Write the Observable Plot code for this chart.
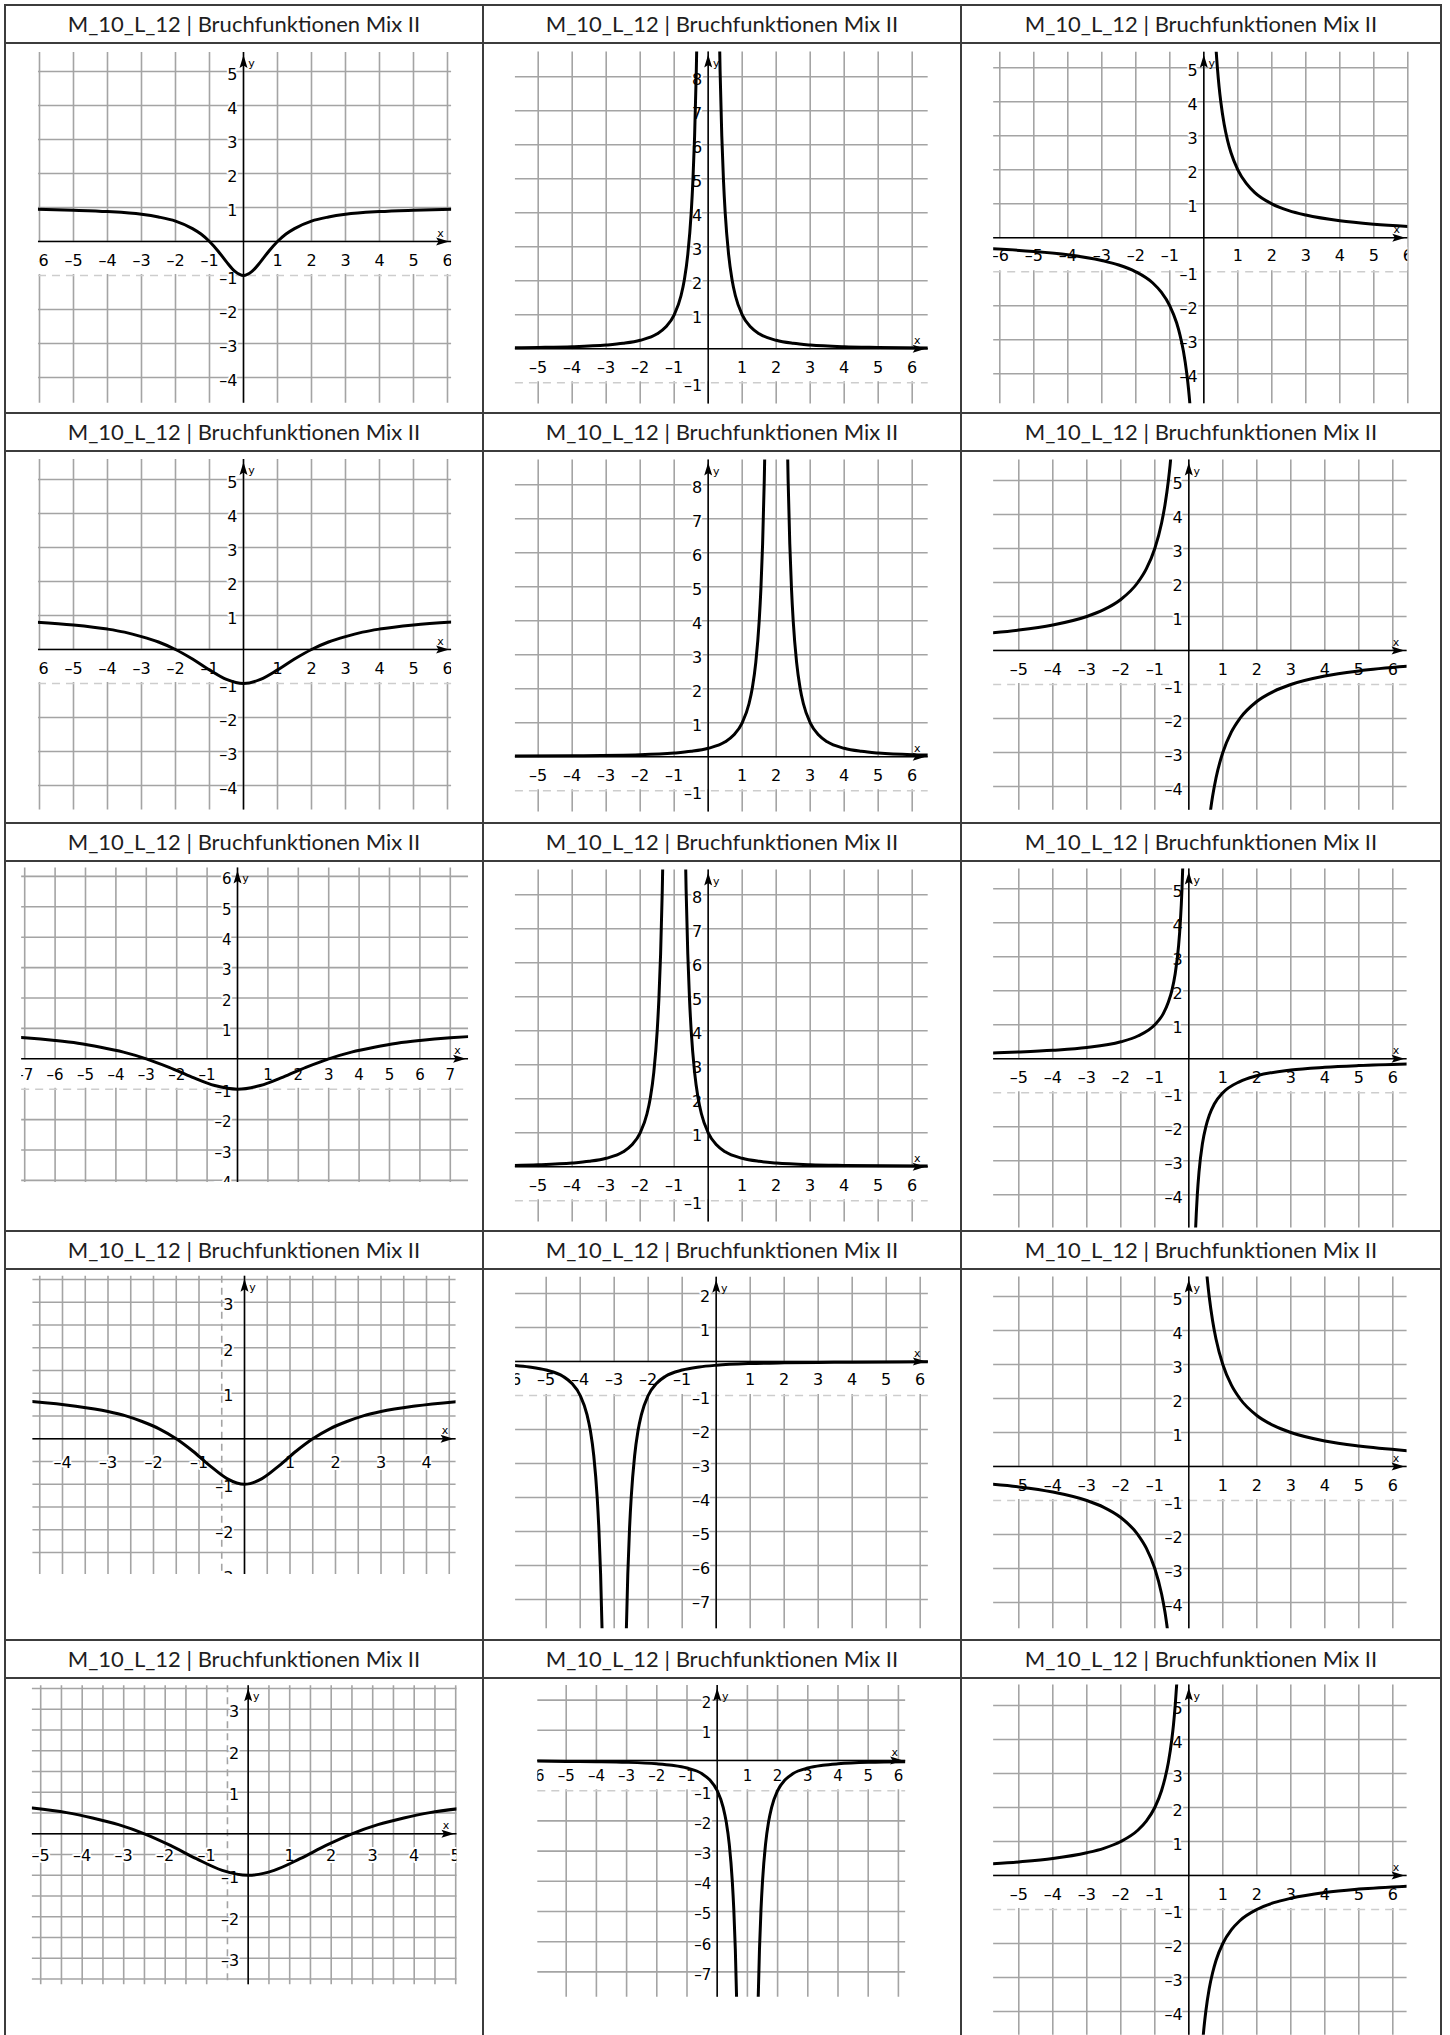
<!DOCTYPE html>
<html><head><meta charset="utf-8">
<script src="https://cdn.jsdelivr.net/npm/d3@7"></script>
<script src="https://cdn.jsdelivr.net/npm/@observablehq/plot@0.6"></script>
<style>
body{margin:0;background:#fff;}
#page{position:relative;width:1450px;height:2035px;overflow:hidden;background:#fff;}
.ln{position:absolute;background:#3c3c3c;z-index:5;}
.title{position:absolute;font-family:Lato,"Noto Sans",sans-serif;font-size:22px;color:#1e1e1e;text-align:center;line-height:38px;height:38px;white-space:nowrap;}
.body{position:absolute;}
.body svg{display:block;}
#page svg text{paint-order:stroke fill;}
</style></head><body><div id="page"></div>
<script>
const titleText = "M_10_L_12 | Bruchfunktionen Mix II";

// ---- curve points (x, y) ----
const curve1 = [[-6.2,0.95],[-5,0.92],[-4,0.88],[-3,0.8],[-2.5,0.72],[-2,0.6],[-1.5,0.38],[-1.25,0.22],[-1,0],[-0.75,-0.28],[-0.5,-0.6],[-0.25,-0.88],[0,-1],[0.25,-0.88],[0.5,-0.6],[0.75,-0.28],[1,0],[1.25,0.22],[1.5,0.38],[2,0.6],[2.5,0.72],[3,0.8],[4,0.88],[5,0.92],[6.2,0.95]];
const curve2a = [[-5.8,0.03],[-5,0.04],[-4,0.06],[-3,0.11],[-2.5,0.16],[-2,0.25],[-1.5,0.44],[-1.25,0.64],[-1,1],[-0.8,1.56],[-0.7,2.04],[-0.6,2.78],[-0.5,4],[-0.45,4.94],[-0.4,6.25],[-0.35,8.16],[-0.32,9.77]];
const curve2b = [[0.32,9.77],[0.35,8.16],[0.4,6.25],[0.45,4.94],[0.5,4],[0.6,2.78],[0.7,2.04],[0.8,1.56],[1,1],[1.25,0.64],[1.5,0.44],[2,0.25],[2.5,0.16],[3,0.11],[4,0.06],[5,0.04],[6.5,0.02]];
const curve3a = [[-6.3,-0.32],[-5,-0.4],[-4,-0.5],[-3,-0.67],[-2.5,-0.8],[-2,-1],[-1.5,-1.33],[-1.25,-1.6],[-1,-2],[-0.8,-2.5],[-0.7,-2.86],[-0.6,-3.33],[-0.5,-4],[-0.45,-4.44],[-0.4,-5],[-0.35,-5.71]];
const curve3b = [[0.33,6.06],[0.35,5.71],[0.4,5],[0.45,4.44],[0.5,4],[0.6,3.33],[0.7,2.86],[0.8,2.5],[1,2],[1.25,1.6],[1.5,1.33],[2,1],[2.5,0.8],[3,0.67],[4,0.5],[5,0.4],[6.1,0.33]];
const curve4 = [[-6.2,0.81],[-5,0.72],[-4,0.6],[-3.5,0.51],[-3,0.38],[-2.5,0.22],[-2,0],[-1.5,-0.28],[-1,-0.6],[-0.5,-0.88],[0,-1],[0.5,-0.88],[1,-0.6],[1.5,-0.28],[2,0],[2.5,0.22],[3,0.38],[3.5,0.51],[4,0.6],[5,0.72],[6.2,0.81]];
const curve5a = [[-5.8,0.02],[-4,0.03],[-2,0.06],[-1,0.11],[-0.5,0.16],[0,0.25],[0.5,0.44],[0.75,0.64],[1,1],[1.2,1.56],[1.3,2.04],[1.4,2.78],[1.5,4],[1.55,4.94],[1.6,6.25],[1.65,8.16],[1.68,9.77]];
const curve5b = [[2.32,9.77],[2.35,8.16],[2.4,6.25],[2.45,4.94],[2.5,4],[2.6,2.78],[2.7,2.04],[2.8,1.56],[3,1],[3.25,0.64],[3.5,0.44],[4,0.25],[4.5,0.16],[5,0.11],[6,0.06],[6.5,0.05]];
const curve6a = [[-5.8,0.52],[-5,0.6],[-4,0.75],[-3,1],[-2.5,1.2],[-2,1.5],[-1.5,2],[-1.25,2.4],[-1,3],[-0.8,3.75],[-0.7,4.29],[-0.6,5],[-0.55,5.45],[-0.5,6]];
const curve6b = [[0.6,-5],[0.65,-4.62],[0.7,-4.29],[0.8,-3.75],[1,-3],[1.25,-2.4],[1.5,-2],[2,-1.5],[2.5,-1.2],[3,-1],[4,-0.75],[5,-0.6],[6.5,-0.46]];
const curve7 = [[-7.6,0.73],[-7,0.69],[-6,0.6],[-5.25,0.51],[-4.5,0.38],[-3.75,0.22],[-3,0],[-2.25,-0.28],[-1.5,-0.6],[-0.75,-0.88],[0,-1],[0.75,-0.88],[1.5,-0.6],[2.25,-0.28],[3,0],[3.75,0.22],[4.5,0.38],[5.25,0.51],[6,0.6],[7,0.69],[7.6,0.73]];
const curve8a = [[-5.8,0.04],[-5,0.06],[-4,0.11],[-3.5,0.16],[-3,0.25],[-2.5,0.44],[-2.25,0.64],[-2,1],[-1.8,1.56],[-1.7,2.04],[-1.6,2.78],[-1.5,4],[-1.45,4.94],[-1.4,6.25],[-1.35,8.16],[-1.32,9.77]];
const curve8b = [[-0.68,9.77],[-0.65,8.16],[-0.6,6.25],[-0.55,4.94],[-0.5,4],[-0.4,2.78],[-0.3,2.04],[-0.2,1.56],[0,1],[0.25,0.64],[0.5,0.44],[1,0.25],[1.5,0.16],[2,0.11],[3,0.06],[4,0.04],[6.5,0.02]];
const curve9a = [[-5.8,0.17],[-5,0.2],[-4,0.25],[-3,0.33],[-2,0.5],[-1.5,0.67],[-1,1],[-0.75,1.33],[-0.6,1.67],[-0.5,2],[-0.4,2.5],[-0.3,3.33],[-0.25,4],[-0.2,5],[-0.17,5.88]];
const curve9b = [[0.19,-5.26],[0.2,-5],[0.22,-4.55],[0.25,-4],[0.3,-3.33],[0.4,-2.5],[0.5,-2],[0.6,-1.67],[0.75,-1.33],[1,-1],[1.5,-0.67],[2,-0.5],[3,-0.33],[4,-0.25],[5,-0.2],[6.5,-0.15]];
const curve10 = [[-4.7,0.82],[-3.75,0.72],[-3,0.6],[-2.625,0.51],[-2.25,0.38],[-1.875,0.22],[-1.5,0],[-1.125,-0.28],[-0.75,-0.6],[-0.375,-0.88],[0,-1],[0.375,-0.88],[0.75,-0.6],[1.125,-0.28],[1.5,0],[1.875,0.22],[2.25,0.38],[2.625,0.51],[3,0.6],[3.75,0.72],[4.7,0.82]];
const curve11a = [[-6,-0.11],[-5.5,-0.16],[-5,-0.25],[-4.5,-0.44],[-4.25,-0.64],[-4,-1],[-3.8,-1.56],[-3.7,-2.04],[-3.6,-2.78],[-3.5,-4],[-3.45,-4.94],[-3.4,-6.25],[-3.35,-8.16],[-3.32,-9.77]];
const curve11b = [[-2.68,-9.77],[-2.65,-8.16],[-2.6,-6.25],[-2.55,-4.94],[-2.5,-4],[-2.4,-2.78],[-2.3,-2.04],[-2.2,-1.56],[-2,-1],[-1.75,-0.64],[-1.5,-0.44],[-1,-0.25],[-0.5,-0.16],[0,-0.11],[1,-0.06],[2,-0.04],[3,-0.03],[4,-0.02],[6.3,-0.01]];
const curve12a = [[-5.8,-0.52],[-5,-0.6],[-4,-0.75],[-3,-1],[-2.5,-1.2],[-2,-1.5],[-1.5,-2],[-1.25,-2.4],[-1,-3],[-0.8,-3.75],[-0.7,-4.29],[-0.6,-5]];
const curve12b = [[0.52,5.77],[0.55,5.45],[0.6,5],[0.7,4.29],[0.8,3.75],[1,3],[1.25,2.4],[1.5,2],[2,1.5],[2.5,1.2],[3,1],[4,0.75],[5,0.6],[6.5,0.46]];
const curve13 = [[-5.2,0.62],[-4.375,0.51],[-3.75,0.38],[-3.125,0.22],[-2.5,0],[-1.875,-0.28],[-1.25,-0.6],[-0.625,-0.88],[0,-1],[0.625,-0.88],[1.25,-0.6],[1.875,-0.28],[2.5,0],[3.125,0.22],[3.75,0.38],[4.375,0.51],[5.2,0.62]];
const curve14a = [[-6,-0.02],[-5,-0.03],[-4,-0.04],[-3,-0.06],[-2,-0.11],[-1.5,-0.16],[-1,-0.25],[-0.5,-0.44],[-0.25,-0.64],[0,-1],[0.2,-1.56],[0.3,-2.04],[0.4,-2.78],[0.5,-4],[0.55,-4.94],[0.6,-6.25],[0.65,-8.16],[0.68,-9.77]];
const curve14b = [[1.32,-9.77],[1.35,-8.16],[1.4,-6.25],[1.45,-4.94],[1.5,-4],[1.6,-2.78],[1.7,-2.04],[1.8,-1.56],[2,-1],[2.25,-0.64],[2.5,-0.44],[3,-0.25],[3.5,-0.16],[4,-0.11],[5,-0.06],[6.3,-0.04]];
const curve15a = [[-5.8,0.34],[-5,0.4],[-4,0.5],[-3,0.67],[-2.5,0.8],[-2,1],[-1.5,1.33],[-1.25,1.6],[-1,2],[-0.8,2.5],[-0.7,2.86],[-0.6,3.33],[-0.5,4],[-0.45,4.44],[-0.4,5],[-0.35,5.71]];
const curve15b = [[0.35,-5.71],[0.4,-5],[0.45,-4.44],[0.5,-4],[0.6,-3.33],[0.7,-2.86],[0.8,-2.5],[1,-2],[1.25,-1.6],[1.5,-1.33],[2,-1],[2.5,-0.8],[3,-0.67],[4,-0.5],[5,-0.4],[6.5,-0.31]];

// ---- tick label values ----
const xLabelsA = [-6,-5,-4,-3,-2,-1,1,2,3,4,5,6];
const xLabelsB = [-5,-4,-3,-2,-1,1,2,3,4,5,6];
const xLabelsC = [-7,-6,-5,-4,-3,-2,-1,1,2,3,4,5,6,7];
const xLabelsD = [-4,-3,-2,-1,1,2,3,4];
const xLabelsE = [-5,-4,-3,-2,-1,1,2,3,4,5];
const yLabelsA = [5,4,3,2,1,-1,-2,-3,-4];
const yLabelsB = [8,7,6,5,4,3,2,1,-1];
const yLabelsC = [6,5,4,3,2,1,-1,-2,-3,-4];
const yLabelsD = [3,2,1,-1,-2,-3];
const yLabelsE = [2,1,-1,-2,-3,-4,-5,-6,-7,-8];

// ---- grid line values ----
const gridXA = [-6,-5,-4,-3,-2,-1,0,1,2,3,4,5,6];
const gridXB = [-5,-4,-3,-2,-1,0,1,2,3,4,5,6];
const gridXC = [-7,-6,-5,-4,-3,-2,-1,0,1,2,3,4,5,6,7];
const gridXD = [-4.5,-4,-3.5,-3,-2.5,-2,-1.5,-1,0,0.5,1,1.5,2,2.5,3,3.5,4,4.5];
const gridXE = [-5,-4.5,-4,-3.5,-3,-2.5,-2,-1.5,-1,0,0.5,1,1.5,2,2.5,3,3.5,4,4.5,5];
const gridYA = [-4,-3,-2,0,1,2,3,4,5];
const gridYB = [0,1,2,3,4,5,6,7,8];
const gridYC = [-4,-3,-2,0,1,2,3,4,5,6];
const gridYD = [-2.5,-2,-1.5,-1,-0.5,0,0.5,1,1.5,2,2.5,3,3.5];
const gridYE = [-3.5,-3,-2.5,-2,-1.5,-1,-0.5,0,0.5,1,1.5,2,2.5,3,3.5];
const gridYF = [-7,-6,-5,-4,-3,-2,0,1,2];

// ---- layout (pixel positions of each coordinate system) ----
const colX = [5, 483, 961, 1441];
const rowY = [5, 413, 823, 1231, 1640];
const TITLE_H = 38;
const PAGE_H = 2035;

const panels = [
  {r:0,c:0,x0:243,y0:241,unit:34,xDom:[-6.03,6.12],yDom:[-4.76,5.56],gx:gridXA,gy:gridYA,xl:xLabelsA,yl:yLabelsA,curves:[curve1],band:true},
  {r:0,c:1,x0:707.7,y0:348.3,unit:34,xDom:[-5.67,6.47],yDom:[-1.62,8.73],gx:gridXB,gy:gridYB,xl:xLabelsB,yl:yLabelsB,curves:[curve2a,curve2b],band:true},
  {r:0,c:2,x0:1203.3,y0:237.3,unit:34,xDom:[-6.18,6.0],yDom:[-4.88,5.46],gx:gridXA,gy:gridYA,xl:xLabelsA,yl:yLabelsA,curves:[curve3a,curve3b],band:true,xdy:18},
  {r:1,c:0,x0:243,y0:649,unit:34,xDom:[-6.03,6.12],yDom:[-4.72,5.59],gx:gridXA,gy:gridYA,xl:xLabelsA,yl:yLabelsA,curves:[curve4],band:true},
  {r:1,c:1,x0:707.7,y0:756.3,unit:34,xDom:[-5.67,6.47],yDom:[-1.62,8.73],gx:gridXB,gy:gridYB,xl:xLabelsB,yl:yLabelsB,curves:[curve5a,curve5b],band:true},
  {r:1,c:2,x0:1188.3,y0:650,unit:34,xDom:[-5.74,6.42],yDom:[-4.7,5.6],gx:gridXB,gy:gridYA,xl:xLabelsB,yl:yLabelsA,curves:[curve6a,curve6b],band:true},
  {r:2,c:0,x0:237,y0:1058.3,unit:30.4,xDom:[-7.1,7.6],yDom:[-4.07,6.28],gx:gridXC,gy:gridYC,xl:xLabelsC,yl:yLabelsC,curves:[curve7],band:true,xdy:16,fs:15},
  {r:2,c:1,x0:707.7,y0:1166.3,unit:34,xDom:[-5.67,6.47],yDom:[-1.62,8.73],gx:gridXB,gy:gridYB,xl:xLabelsB,yl:yLabelsB,curves:[curve8a,curve8b],band:true},
  {r:2,c:2,x0:1188.3,y0:1058.3,unit:34,xDom:[-5.74,6.42],yDom:[-4.98,5.58],gx:gridXB,gy:gridYA,xl:xLabelsB,yl:yLabelsA,curves:[curve9a,curve9b],band:true},
  {r:3,c:0,x0:244,y0:1438.3,unit:45.5,xDom:[-4.65,4.65],yDom:[-2.98,3.57],gx:gridXD,gy:gridYD,xl:xLabelsD,yl:yLabelsD,curves:[curve10],band:false,dashX:[-0.5],xdy:24,ydx:-11},
  {r:3,c:1,x0:715.7,y0:1361,unit:34,xDom:[-5.9,6.24],yDom:[-7.86,2.48],gx:gridXB,gy:gridYF,xl:xLabelsA,yl:yLabelsE,curves:[curve11a,curve11b],band:true,xdy:18},
  {r:3,c:2,x0:1188.3,y0:1466,unit:34,xDom:[-5.74,6.42],yDom:[-4.77,5.57],gx:gridXB,gy:gridYA,xl:xLabelsB,yl:yLabelsA,curves:[curve12a,curve12b],band:true},
  {r:4,c:0,x0:247.7,y0:1833.3,unit:41.5,xDom:[-5.2,5.03],yDom:[-3.64,3.57],gx:gridXE,gy:gridYE,xl:xLabelsE,yl:yLabelsD,curves:[curve13],band:false,dashX:[-0.5],xdy:22,ydx:-9},
  {r:4,c:1,x0:716.7,y0:1760,unit:30.2,xDom:[-5.94,6.24],yDom:[-7.84,2.48],gx:gridXB,gy:gridYF,xl:xLabelsA,yl:yLabelsE,curves:[curve14a,curve14b],band:true,xdy:16,fs:15},
  {r:4,c:2,x0:1188.3,y0:1875,unit:34,xDom:[-5.74,6.42],yDom:[-4.7,5.6],gx:gridXB,gy:gridYA,xl:xLabelsB,yl:yLabelsA,curves:[curve15a,curve15b],band:true}
];

const GRID = "#a4a4a4";
const FONT = "DejaVu Sans";
const fmt = d => d < 0 ? "\u2013" + (-d) : String(d);

const arrowRight = { draw(ctx) { ctx.moveTo(-2.5, 0); ctx.lineTo(-15.5, -4); ctx.lineTo(-13, 0); ctx.lineTo(-15.5, 4); ctx.closePath(); } };
const arrowUp = { draw(ctx) { ctx.moveTo(0, 2.5); ctx.lineTo(-4, 15.5); ctx.lineTo(0, 13); ctx.lineTo(4, 15.5); ctx.closePath(); } };

const page = document.getElementById("page");

function addLine(x, y, w, h) {
  const d = document.createElement("div");
  d.className = "ln";
  Object.assign(d.style, {left: x + "px", top: y + "px", width: w + "px", height: h + "px"});
  page.appendChild(d);
}

for (const p of panels) {
  const cellL = colX[p.c], cellR = colX[p.c + 1];
  const rowTop = rowY[p.r];
  const bodyTop = rowTop + TITLE_H;
  const bodyBottom = p.r < 4 ? rowY[p.r + 1] : PAGE_H;
  const W = cellR - cellL, H = bodyBottom - bodyTop;

  // title
  const t = document.createElement("div");
  t.className = "title";
  Object.assign(t.style, {left: cellL + "px", top: rowTop + "px", width: W + "px"});
  t.textContent = titleText;
  page.appendChild(t);

  const mL = p.x0 + p.xDom[0] * p.unit - cellL;
  const mR = cellR - (p.x0 + p.xDom[1] * p.unit);
  const mT = (p.y0 - p.yDom[1] * p.unit) - bodyTop;
  const mB = bodyBottom - (p.y0 - p.yDom[0] * p.unit);
  const fs = p.fs || 16;
  const xdy = p.xdy || 19;
  const ydx = p.ydx || -6;

  const marks = [
    Plot.ruleX(p.gx, {stroke: GRID, strokeWidth: 1.6}),
    Plot.ruleY(p.gy, {stroke: GRID, strokeWidth: 1.6})
  ];
  if (p.dashX) marks.push(Plot.ruleX(p.dashX, {stroke: GRID, strokeWidth: 1.6, strokeDasharray: "7,5"}));
  if (p.band) {
    marks.push(Plot.rect([{x1: p.xDom[0], x2: p.xDom[1], y1: -0.97, y2: -0.03}], {x1: "x1", x2: "x2", y1: "y1", y2: "y2", fill: "white"}));
    marks.push(Plot.ruleY([-1], {stroke: "#cdcdcd", strokeWidth: 1.6, strokeDasharray: "8,6"}));
  }
  marks.push(
    Plot.ruleY([0], {stroke: "black", strokeWidth: 1.5}),
    Plot.ruleX([0], {stroke: "black", strokeWidth: 1.5}),
    Plot.dot([[p.xDom[1], 0]], {x: d => d[0], y: d => d[1], symbol: arrowRight, fill: "black", stroke: "none"}),
    Plot.dot([[0, p.yDom[1]]], {x: d => d[0], y: d => d[1], symbol: arrowUp, fill: "black", stroke: "none"}),
    Plot.text(["x"], {x: () => p.xDom[1], y: () => 0, dx: -11, dy: -8, fontSize: 11, fontFamily: FONT, fill: "black"}),
    Plot.text(["y"], {x: () => 0, y: () => p.yDom[1], dx: 8, dy: 11, fontSize: 11, fontFamily: FONT, fill: "black"}),
    Plot.text(p.xl, {x: d => d, y: () => 0, dy: xdy, text: fmt, fontSize: fs, fontFamily: FONT, fill: "black",
      stroke: "white", strokeWidth: 4, strokeLinejoin: "round", paintOrder: "stroke", clip: true}),
    Plot.text(p.yl, {x: () => 0, y: d => d, dx: ydx, dy: 3, text: fmt, textAnchor: "end", fontSize: fs, fontFamily: FONT, fill: "black",
      stroke: "white", strokeWidth: 4, strokeLinejoin: "round", paintOrder: "stroke", clip: true})
  );
  for (const c of p.curves) {
    marks.push(Plot.line(c, {x: d => d[0], y: d => d[1], curve: "monotone-x", stroke: "black", strokeWidth: 3, strokeLinejoin: "round", clip: true}));
  }

  const chart = Plot.plot({
    width: W, height: H,
    marginLeft: mL, marginRight: mR, marginTop: mT, marginBottom: Math.max(0, mB),
    x: {domain: p.xDom, axis: null},
    y: {domain: p.yDom, axis: null},
    style: {background: "transparent", fontFamily: FONT, overflow: "visible"},
    marks
  });
  const holder = document.createElement("div");
  holder.className = "body";
  Object.assign(holder.style, {left: cellL + "px", top: bodyTop + "px", width: W + "px", height: H + "px"});
  holder.appendChild(chart);
  page.appendChild(holder);
}

// table lines
for (const y of rowY) {
  addLine(colX[0] - 1, y - 1, colX[3] - colX[0] + 2, 2);
  addLine(colX[0] - 1, y + TITLE_H - 1, colX[3] - colX[0] + 2, 2);
}
for (const x of colX) addLine(x - 1, rowY[0] - 1, 2, PAGE_H - rowY[0] + 1);
</script>
</body></html>
